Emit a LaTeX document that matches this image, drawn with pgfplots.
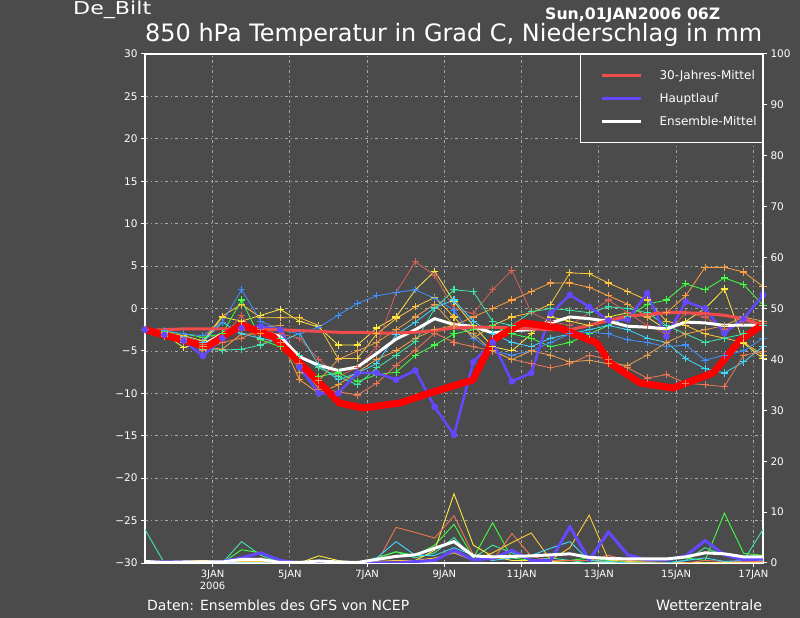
\documentclass[border=0pt]{standalone}
\usepackage{fontspec}
\setmainfont{DejaVu Sans}
\usepackage{pgfplots}
\usepackage{pgfplotstable}
\pgfplotsset{compat=1.18}
\definecolor{bgcol}{RGB}{75,75,75}
\definecolor{gridcol}{RGB}{170,170,170}
\definecolor{colA}{HTML}{FFE840}
\definecolor{colB}{HTML}{FFC83C}
\definecolor{colC}{HTML}{FFA040}
\definecolor{colD}{HTML}{D86058}
\definecolor{colE}{HTML}{40FF40}
\definecolor{colF}{HTML}{40D8FF}
\definecolor{colG}{HTML}{4090FF}
\definecolor{colH}{HTML}{40E8A8}
\definecolor{colI}{HTML}{F07850}
\definecolor{colJ}{HTML}{E8A050}
\definecolor{hpcol}{RGB}{100,72,255}
\definecolor{klimcol}{RGB}{240,76,76}
\definecolor{redcol}{RGB}{255,0,0}

\pgfplotstableread{
i d A B C D E F G H I J mean haupt klim
0 0.25 -2.5 -2.5 -2.5 -2.5 -2.5 -2.5 -2.5 -2.5 -2.5 -2.5 -2.5 -2.5 -2.6
1 0.75 -3.0 -2.8 -3.3 -3.0 -2.7 -2.9 -2.6 -3.1 -3.2 -3.0 -3.0 -3.1 -2.5
2 1.25 -4.6 -3.2 -3.6 -3.4 -3.0 -3.3 -3.0 -3.8 -3.5 -4.0 -3.6 -3.8 -2.4
3 1.75 -4.0 -3.8 -4.5 -4.2 -3.4 -4.0 -3.2 -4.8 -5.0 -4.5 -4.3 -5.6 -2.4
4 2.25 -1.0 -0.9 -4.8 -3.5 -3.0 -1.6 -1.6 -4.9 -4.0 -3.5 -3.0 -3.5 -2.4
5 2.75 -1.5 0.5 -3.0 -0.8 1.0 -3.0 2.2 -4.8 -3.5 -2.5 -2.1 -2.3 -2.4
6 3.25 -0.8 -1.1 -3.0 -4.3 -3.7 -3.5 -1.5 -4.3 -2.5 -2.2 -2.6 -2.1 -2.5
7 3.75 -0.1 -1.1 -3.5 -3.0 -4.5 -4.0 -2.5 -3.5 -4.0 -2.0 -3.3 -2.5 -2.5
8 4.25 -1.5 -1.1 -8.4 -3.5 -7.0 -2.9 -3.0 -5.5 -6.5 -7.5 -5.7 -6.9 -2.6
9 4.75 -2.2 -2.0 -10.0 -6.0 -8.0 -6.7 -2.2 -7.0 -9.5 -8.5 -6.7 -10.0 -2.7
10 5.25 -4.3 -5.9 -9.0 -8.0 -7.6 -8.4 -0.8 -8.0 -9.8 -6.0 -7.3 -10.0 -2.8
11 5.75 -4.3 -5.9 -7.5 -7.0 -8.6 -7.6 0.6 -9.0 -10.2 -5.0 -6.9 -7.6 -2.8
12 6.25 -2.3 -3.0 -6.0 -4.5 -7.8 -6.5 1.5 -7.0 -8.8 -4.0 -5.3 -7.6 -2.9
13 6.75 -1.0 -1.2 -5.0 1.9 -7.5 -3.1 1.9 -5.5 -6.7 -2.5 -3.6 -8.4 -2.9
14 7.25 2.2 0.2 -3.5 5.5 -5.5 -1.6 2.2 -3.9 -4.9 -1.0 -2.5 -7.3 -2.8
15 7.75 4.4 1.3 -2.5 3.9 -4.3 0.1 1.2 0.0 -2.9 0.5 -1.2 -11.6 -2.6
16 8.25 0.8 -1.0 -2.0 0.0 -3.0 1.0 -0.2 2.2 -4.0 -2.0 -1.9 -14.9 -2.3
17 8.75 -2.0 -3.5 -1.0 -0.6 -2.5 -1.5 -3.5 2.0 -4.5 -3.0 -2.1 -6.3 -2.2
18 9.25 -4.5 -2.0 0.0 2.2 -2.0 -3.0 -5.0 -1.5 -5.0 -5.0 -2.9 -4.0 -2.2
19 9.75 -5.0 -1.0 1.0 4.5 -3.0 -4.0 -5.5 -2.0 -6.0 -6.0 -2.6 -8.6 -2.3
20 10.25 -3.0 -0.5 2.0 -0.5 -3.5 -4.5 -5.0 -0.4 -6.5 -5.0 -2.5 -7.6 -2.4
21 10.75 -1.0 0.5 3.0 -1.5 -4.5 -3.5 -4.0 0.0 -7.0 -5.5 -1.7 -0.6 -2.5
22 11.25 -1.5 4.2 3.0 -2.0 -4.0 -3.0 -3.0 -0.2 -6.5 -6.3 -1.0 1.6 -2.5
23 11.75 -2.0 4.1 2.5 -0.5 -3.0 -2.5 -2.8 -0.5 -5.5 -6.1 -1.2 0.2 -2.0
24 12.25 -1.0 3.0 1.5 1.0 -2.0 -2.0 -3.0 0.2 -6.0 -6.5 -1.5 -1.4 -1.4
25 12.75 -0.5 2.0 0.5 -0.5 -1.0 -2.5 -3.7 0.0 -7.0 -6.7 -2.1 -1.3 -0.9
26 13.25 -1.0 1.0 -1.0 -2.0 0.5 -3.5 -4.0 -0.5 -8.2 -5.5 -2.2 1.8 -0.7
27 13.75 -2.5 -1.5 -0.5 -3.0 1.0 -4.0 -4.5 -2.0 -7.8 -4.0 -2.4 -3.3 -0.5
28 14.25 -1.5 -2.0 1.5 -0.5 2.9 -5.9 -4.3 -3.0 -8.8 -3.0 -1.6 0.8 -0.5
29 14.75 0.0 -3.0 4.85 -1.0 2.2 -7.1 -6.1 -4.0 -9.0 -2.5 -1.7 0.0 -0.6
30 15.25 2.3 -3.5 4.85 -2.5 3.6 -7.6 -5.5 -3.5 -9.2 -2.0 -2.0 -2.9 -0.8
31 15.75 -4.1 -4.0 4.3 -1.5 2.8 -6.3 -5.0 -3.0 -5.5 -1.0 -1.95 -1.2 -1.2
32 16.25 -5.9 -5.5 2.6 -1.8 0.4 -4.5 -3.5 -2.0 -5.1 -1.5 -1.95 1.6 -2.0
}\temps

\pgfplotstableread{
d T
0.25 -2.5
1.85 -4.5
2.75 -1.95
3.57 -3.33
4.26 -6.43
5.29 -11.14
5.89 -11.73
6.85 -11.14
7.63 -9.96
8.32 -9.0
8.74 -8.43
9.26 -3.71
10.03 -1.67
10.98 -2.30
11.95 -4.07
12.29 -6.43
13.07 -8.78
13.92 -9.37
14.96 -7.6
15.66 -3.71
16.23 -1.95
}\thickred

\pgfplotstableread{
i d pT pG pY pS pO pC hp pm
0 0.25 6.6 0.3 0 0 0 0 0.2 0.3
1 0.75 0 0.3 0 0 0 0 0.2 0.1
2 1.25 0 0.3 0 0 0.3 0 0.2 0.2
3 1.75 0 0.3 0 0 0.5 0 0 0.2
4 2.25 0 0 0.3 0 0.3 0 0.3 0.2
5 2.75 4.2 2.6 0.3 0.5 0.3 0 1.0 0.7
6 3.25 1.5 2.0 0.3 1.0 0.3 0 2.0 0.7
7 3.75 0 0 0 0 0 0 0.5 0.1
8 4.25 0 0 0 0 0 0 0 0.1
9 4.75 0 0 1.4 0 0 0.2 0 0.4
10 5.25 0 0 0.5 0 0 0 0 0.2
11 5.75 0 0 0 0 0 0 0 0.1
12 6.25 1.0 1.0 0 0 0.3 1.0 0 0.7
13 6.75 2.2 2.2 0 7.0 0.5 4.2 0 1.3
14 7.25 1.0 1.5 0.5 6.0 0.5 1.5 0.3 1.6
15 7.75 2.0 3.5 2.5 4.9 1.0 1.5 0.5 2.9
16 8.25 5.0 7.6 13.6 9.3 2.0 3.0 2.5 4.2
17 8.75 1.0 1.0 3.5 1.6 0.5 1.5 0.6 1.4
18 9.25 3.5 7.9 1.3 0.5 2.0 0.5 0.9 1.2
19 9.75 2.0 1.0 0.5 5.8 4.0 1.0 2.5 1.3
20 10.25 0.5 0.5 0.5 1.3 5.9 1.5 0.5 1.4
21 10.75 1.0 0.3 0.3 0.5 0.6 2.9 0.5 1.6
22 11.25 0.5 0.5 0.5 0.5 3.0 4.2 7.1 1.8
23 11.75 0 1.0 0.5 0.5 9.4 0.5 0.6 1.1
24 12.25 0 0.5 0.3 1.5 0.6 0.3 6.1 0.9
25 12.75 0 0.3 0 0.5 0.3 0 1.6 0.8
26 13.25 0 0.3 0 0.3 0 0 0.6 0.8
27 13.75 0 0.5 0 0 0 0 0.6 0.8
28 14.25 0.5 1.0 0 0 0 0.5 1.4 1.2
29 14.75 3.0 0.5 0 0.5 0 1.0 4.4 2.0
30 15.25 1.5 9.8 0 0.3 0 0.3 1.6 1.8
31 15.75 0.5 1.9 0 0.3 0 0.5 0.6 1.2
32 16.25 6.6 1.5 0 0.3 0 0.5 0.8 1.2
}\precip

\pgfplotsset{
  member/.style={#1, line width=0.8pt, mark=+, mark size=3.6pt, mark options={solid, line width=1.1pt}},
  pline/.style={#1, line width=0.9pt},
}

\begin{document}
\begin{tikzpicture}[x=1pt,y=1pt]
\fill[bgcol] (0,0) rectangle (800,618);
\path[use as bounding box] (0,0) rectangle (800,618);
\node[anchor=base west, inner sep=0pt, text=white] at (73,603) {\resizebox{78pt}{13.5pt}{De\_Bilt}};
\node[anchor=base west, inner sep=0pt, text=white] at (545,598) {\resizebox{175pt}{!}{\bfseries Sun,01JAN2006 06Z}};
\node[anchor=base west, inner sep=0pt, text=white] at (145,576) {\resizebox{617pt}{!}{850 hPa Temperatur in Grad C, Niederschlag in mm}};
\node[anchor=base west, inner sep=0pt, text=white] at (147,7) {\resizebox{262pt}{!}{Daten: Ensembles des GFS von NCEP}};
\node[anchor=base west, inner sep=0pt, text=white] at (656,7) {\resizebox{106pt}{!}{Wetterzentrale}};

\begin{axis}[
  at={(145pt,55pt)}, anchor=south west,
  scale only axis, width=618pt, height=509pt,
  xmin=0.25, xmax=16.25, ymin=-30, ymax=30,
  axis line style={white, line width=1.6pt},
  tick style={white, line width=1pt},
  tick align=outside, major tick length=4pt,
  xtick pos=bottom, ytick pos=left,
  ytick={-30,-25,...,30},
  yticklabels={−30,−25,−20,−15,−10,−5,0,5,10,15,20,25,30},
  xtick={2,4,...,16},
  xticklabels={{3JAN\\2006},5JAN,7JAN,9JAN,11JAN,13JAN,15JAN,17JAN},
  xticklabel style={align=center, font=\fontsize{10}{12}\selectfont, text=white},
  yticklabel style={font=\fontsize{10.5}{12}\selectfont, text=white},
  grid=major,
  major grid style={gridcol, line width=0.8pt, dash pattern=on 3pt off 3pt on 1pt off 3pt},
]
\addplot[member=colA, forget plot] table[x=d, y=A] {\temps};
\addplot[member=colB, forget plot] table[x=d, y=B] {\temps};
\addplot[member=colC, forget plot] table[x=d, y=C] {\temps};
\addplot[member=colD, forget plot] table[x=d, y=D] {\temps};
\addplot[member=colE, forget plot] table[x=d, y=E] {\temps};
\addplot[member=colF, forget plot] table[x=d, y=F] {\temps};
\addplot[member=colG, forget plot] table[x=d, y=G] {\temps};
\addplot[member=colH, forget plot] table[x=d, y=H] {\temps};
\addplot[member=colI, forget plot] table[x=d, y=I] {\temps};
\addplot[member=colJ, forget plot] table[x=d, y=J] {\temps};
\addplot[hpcol, line width=2.5pt, mark=*, mark size=2pt, mark options={solid, fill=hpcol}, forget plot] table[x=d, y=haupt] {\temps};
\addplot[white, line width=3pt, forget plot] table[x=d, y=mean] {\temps};
\addplot[klimcol, line width=3pt, forget plot] table[x=d, y=klim] {\temps};
\addplot[redcol, line width=7pt, line join=round, line cap=round, forget plot] table[x=d, y=T] {\thickred};
\end{axis}

\begin{axis}[
  at={(145pt,55pt)}, anchor=south west,
  scale only axis, width=618pt, height=509pt,
  xmin=0.25, xmax=16.25, ymin=0, ymax=100,
  axis x line=none,
  axis y line*=right,
  axis line style={white, line width=1.6pt, -},
  tick style={white, line width=1pt},
  tick align=outside, major tick length=4pt,
  ytick={0,10,...,100},
  yticklabels={0,10,20,30,40,50,60,70,80,90,100},
  yticklabel style={font=\fontsize{10.5}{12}\selectfont, text=white},
  legend style={at={(1,1)}, anchor=north east, draw=white, line width=0.8pt,
    fill=bgcol, text=white, font=\fontsize{12}{14}\selectfont,
    inner xsep=6pt, inner ysep=17pt, row sep=15pt,
    nodes={inner sep=0pt, text height=8pt, text depth=0pt},
    /tikz/every odd column/.append style={column sep=17pt},
    cells={anchor=west}},
  legend image code/.code={\path (0pt,0pt); \draw[#1, line width=3pt] (15pt,0pt) -- (54pt,0pt);},
]
\addplot[pline=colH, forget plot] table[x=d, y=pT] {\precip};
\addplot[pline=colE, forget plot] table[x=d, y=pG] {\precip};
\addplot[pline=colA, forget plot] table[x=d, y=pY] {\precip};
\addplot[pline=colI, forget plot] table[x=d, y=pS] {\precip};
\addplot[pline=colB, forget plot] table[x=d, y=pO] {\precip};
\addplot[pline=colF, forget plot] table[x=d, y=pC] {\precip};
\addplot[hpcol, line width=3pt, forget plot] table[x=d, y=hp] {\precip};
\addplot[white, line width=3pt, forget plot] table[x=d, y=pm] {\precip};
\addlegendimage{klimcol}
\addlegendentry{30{-}Jahres{-}Mittel}
\addlegendimage{hpcol}
\addlegendentry{Hauptlauf}
\addlegendimage{white}
\addlegendentry{Ensemble{-}Mittel}
\end{axis}
\end{tikzpicture}
\end{document}
